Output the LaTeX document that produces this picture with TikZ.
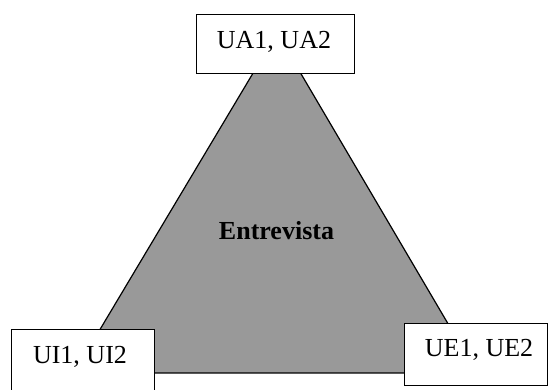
\documentclass[tikz,border=0pt]{standalone}
\usepackage{fontspec}
\setmainfont{Liberation Serif}
\begin{document}
\begin{tikzpicture}[x=1pt,y=-1pt,
  labelbox/.style={draw=black,line width=1.2pt,fill=white,rectangle,inner sep=0pt,anchor=north west},
  labeltext/.style={font=\fontsize{26}{30}\selectfont,anchor=base,inner sep=0pt},
  area/.style={fill=black!40,draw=black,line width=1.2pt,line join=miter}]
\useasboundingbox (0,0) rectangle (550,390);
% shaded triangle behind the boxes
\coordinate (apex) at (277,33);
\coordinate (bl) at (74,373);
\coordinate (br) at (477,373);
\draw[area] (apex) -- (br) -- (bl) -- cycle;
\node[font=\bfseries\fontsize{26}{30}\selectfont,anchor=base,inner sep=0pt] (centre) at (276.5,240) {Entrevista};
% corner boxes
\node[labelbox,minimum width=158pt,minimum height=59pt] (top) at (196,14) {};
\node[labeltext] (toptext) at (274,49) {UA1, UA2};
\node[labelbox,minimum width=143pt,minimum height=70pt] (left) at (11,329) {};
\node[labeltext] (lefttext) at (80,364) {UI1, UI2};
\node[labelbox,minimum width=143pt,minimum height=62pt] (right) at (404,323) {};
\node[labeltext] (righttext) at (479,357) {UE1, UE2};
\end{tikzpicture}
\end{document}
